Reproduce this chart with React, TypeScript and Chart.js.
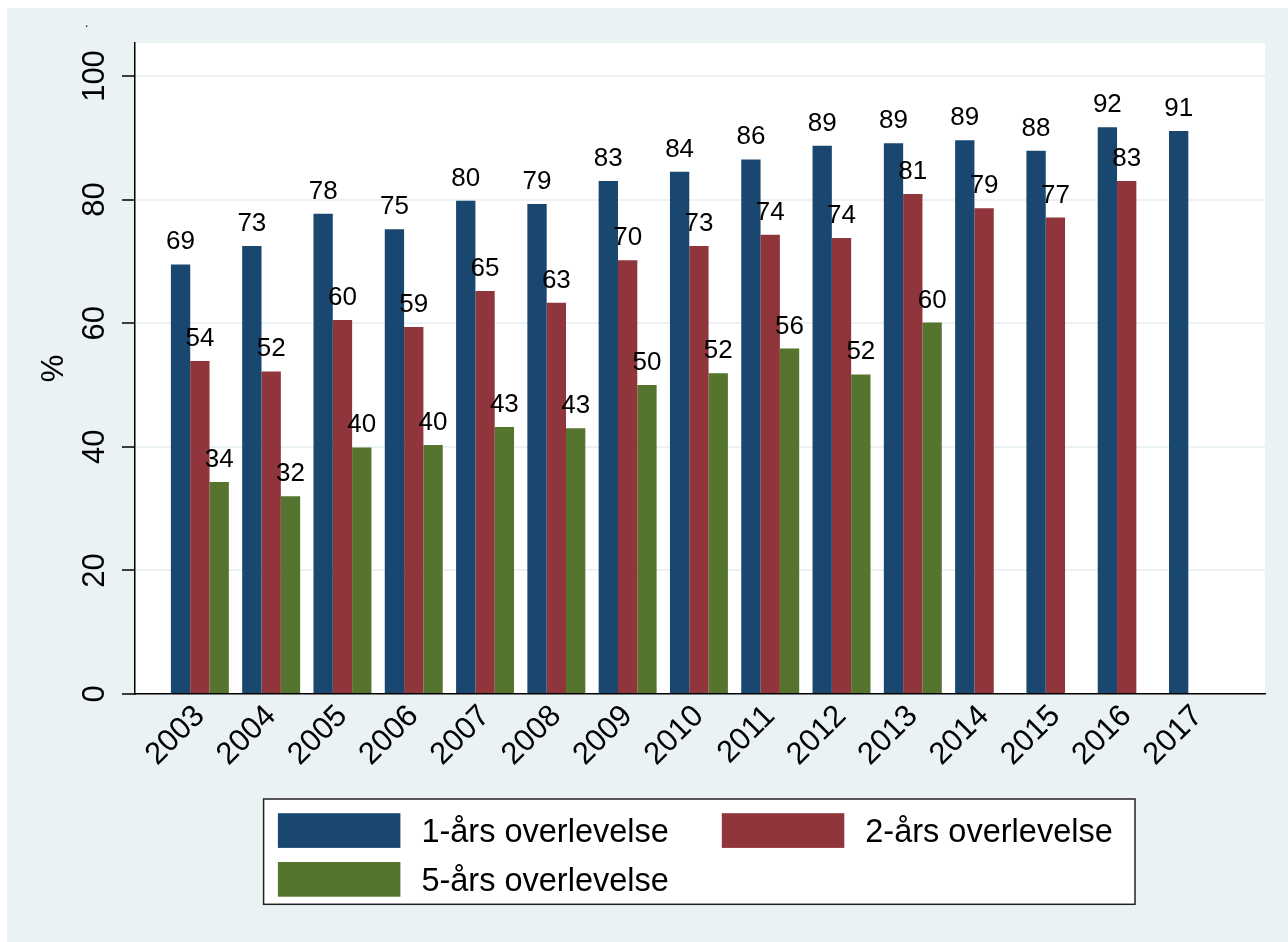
import React, { useEffect, useRef } from "react";
import { Chart, registerables } from "chart.js";

Chart.register(...registerables);

const years = [2003, 2004, 2005, 2006, 2007, 2008, 2009, 2010, 2011, 2012, 2013, 2014, 2015, 2016, 2017];
const oneYear = [69.5, 72.5, 77.7, 75.2, 79.8, 79.3, 83.0, 84.5, 86.5, 88.7, 89.1, 89.6, 87.9, 91.7, 91.1];
const oneYearLabels = ["69", "73", "78", "75", "80", "79", "83", "84", "86", "89", "89", "89", "88", "92", "91"];
const twoYear = [53.9, 52.2, 60.5, 59.4, 65.2, 63.3, 70.2, 72.5, 74.3, 73.8, 80.9, 78.6, 77.1, 83.0, null];
const twoYearLabels = ["54", "52", "60", "59", "65", "63", "70", "73", "74", "74", "81", "79", "77", "83", ""];
const fiveYear = [34.3, 32.0, 39.9, 40.3, 43.2, 43.0, 50.0, 51.9, 55.9, 51.7, 60.1, null, null, null, null];
const fiveYearLabels = ["34", "32", "40", "40", "43", "43", "50", "52", "56", "52", "60", "", "", "", ""];
const yTicks = [0, 20, 40, 60, 80, 100];
const seriesNames = ["1-års overlevelse", "2-års overlevelse", "5-års overlevelse"];
const seriesColors = ["#1a476f", "#90353b", "#55752f"];

const FONT = '"Liberation Sans", Arial, Helvetica, sans-serif';
const BG = "#eaf2f3";

const allLabels = [oneYearLabels, twoYearLabels, fiveYearLabels];

const toPoints = (vals: (number | null)[]) => years.map((yr, i) => ({ x: yr, y: vals[i] }));

const bgPlugin = {
  id: "bgPlugin",
  beforeDraw(chart: any) {
    const { ctx, width, height, chartArea } = chart;
    ctx.save();
    ctx.fillStyle = BG;
    ctx.fillRect(0, 0, width, height);
    ctx.fillStyle = "#ffffff";
    ctx.fillRect(chartArea.left, chartArea.top, chartArea.right - chartArea.left, chartArea.bottom - chartArea.top);
    ctx.restore();
  },
};

const labelPlugin = {
  id: "barLabels",
  afterDatasetsDraw(chart: any) {
    const ctx = chart.ctx;
    ctx.save();
    ctx.font = `26px ${FONT}`;
    ctx.fillStyle = "#000";
    ctx.textAlign = "center";
    ctx.textBaseline = "alphabetic";
    chart.data.datasets.forEach((ds: any, di: number) => {
      const meta = chart.getDatasetMeta(di);
      meta.data.forEach((bar: any, i: number) => {
        const v = ds.data[i].y;
        if (v == null) return;
        ctx.fillText(allLabels[di][i], bar.x, bar.y - 15);
      });
    });
    ctx.restore();
  },
};

const legendPlugin = {
  id: "boxLegend",
  afterDraw(chart: any) {
    const ctx = chart.ctx;
    ctx.save();
    const bx = 256.6, by = 791, bw = 871.4, bh = 105.3;
    ctx.fillStyle = "#fff";
    ctx.fillRect(bx, by, bw, bh);
    ctx.strokeStyle = "#222";
    ctx.lineWidth = 1.5;
    ctx.strokeRect(bx, by, bw, bh);
    const slots = [
      { sx: 270.9, sy: 805.2 },
      { sx: 714.8, sy: 805.2 },
      { sx: 270.9, sy: 854 },
    ];
    ctx.font = `32.5px ${FONT}`;
    ctx.textAlign = "left";
    ctx.textBaseline = "alphabetic";
    chart.data.datasets.forEach((ds: any, i: number) => {
      const s = slots[i];
      ctx.fillStyle = ds.backgroundColor;
      ctx.fillRect(s.sx, s.sy, 122.5, 34.7);
      ctx.fillStyle = "#000";
      ctx.fillText(ds.label, s.sx + 143.5, s.sy + 28.5);
    });
    ctx.font = `12px ${FONT}`;
    ctx.fillText(".", 78, 19);
    ctx.restore();
  },
};

export default function App() {
  const ref = useRef<HTMLCanvasElement | null>(null);

  useEffect(() => {
    if (!ref.current) return;
    const chart = new Chart(ref.current, {
      type: "bar",
      data: {
        datasets: [
          { label: seriesNames[0], data: toPoints(oneYear), backgroundColor: seriesColors[0] },
          { label: seriesNames[1], data: toPoints(twoYear), backgroundColor: seriesColors[1] },
          { label: seriesNames[2], data: toPoints(fiveYear), backgroundColor: seriesColors[2] },
        ] as any,
      },
      options: {
        animation: false,
        responsive: false,
        maintainAspectRatio: false,
        datasets: { bar: { categoryPercentage: 0.813, barPercentage: 1.0 } } as any,
        layout: { padding: { left: 29, top: 35, right: 23, bottom: 0 } },
        plugins: { legend: { display: false }, tooltip: { enabled: false } },
        scales: {
          x: {
            type: "linear",
            min: 2002.09,
            max: 2017.94,
            offset: false,
            afterBuildTicks: (s: any) => {
              s.ticks = years.map((v) => ({ value: v }));
            },
            afterFit: (s: any) => {
              s.height = 248;
            },
            ticks: {
              minRotation: 45,
              maxRotation: 45,
              autoSkip: false,
              padding: 4,
              color: "#000",
              font: { family: FONT, size: 31 },
              callback: (v: any) => String(v),
            },
            grid: { display: false, drawTicks: false },
            border: { display: true, color: "#000", width: 1.5 },
          },
          y: {
            type: "linear",
            min: 0,
            max: 105.34,
            afterBuildTicks: (s: any) => {
              s.ticks = yTicks.map((v) => ({ value: v }));
            },
            afterFit: (s: any) => {
              s.width = 99;
            },
            ticks: {
              minRotation: 90,
              maxRotation: 90,
              padding: 1,
              crossAlign: "center",
              color: "#000",
              font: { family: FONT, size: 31 },
            },
            grid: {
              color: BG,
              lineWidth: 2,
              drawTicks: true,
              tickLength: 13,
              tickColor: "#000",
              tickWidth: 1.5,
            },
            border: { display: true, color: "#000", width: 1.5 },
            title: {
              display: true,
              text: "%",
              color: "#000",
              font: { family: FONT, size: 31 },
              padding: 0,
            },
          },
        },
      } as any,
      plugins: [bgPlugin, labelPlugin, legendPlugin],
    });
    return () => chart.destroy();
  }, []);

  return (
    <div style={{ position: "absolute", left: 7, top: 8, width: 1281, height: 934 }}>
      <canvas ref={ref} width={1281} height={934} style={{ display: "block", width: 1281, height: 934 }} />
    </div>
  );
}
